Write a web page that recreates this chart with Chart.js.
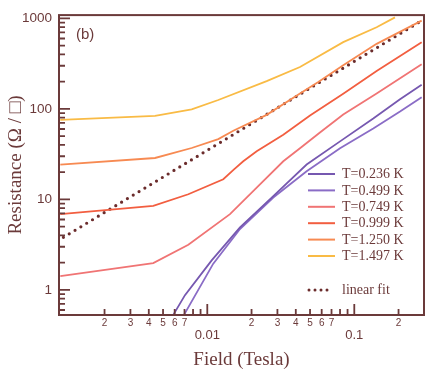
<!DOCTYPE html>
<html><head><meta charset="utf-8">
<script src="https://cdn.jsdelivr.net/npm/chart.js@4.4.1/dist/chart.umd.min.js"></script>
<style>html,body{margin:0;padding:0;background:#fff;}canvas{display:block;}</style>
</head><body>
<canvas id="c" width="431" height="376"></canvas>
<script>
// ---- data ----
const seriesLabels = ['T=0.236 K', 'T=0.499 K', 'T=0.749 K', 'T=0.999 K', 'T=1.250 K', 'T=1.497 K'];
const fitLabel = 'linear fit';
const panelLabel = '(b)';
const xTitle = 'Field (Tesla)';
const yTitle = 'Resistance (\u03A9 / \u25A1)';

const fieldT0236 = [0.00587, 0.00705, 0.01071, 0.01669, 0.02812, 0.0474, 0.0800, 0.1346, 0.2047, 0.2873];
const resT0236   = [0.53, 0.875, 2.12, 4.91, 10.9, 24.3, 43.8, 78.3, 128, 185];

const fieldT0499 = [0.00694, 0.01098, 0.01669, 0.02812, 0.0474, 0.0800, 0.1346, 0.2047, 0.2873];
const resT0499   = [0.53, 1.95, 4.71, 10.5, 20.5, 36.7, 60.8, 93.4, 135];

const fieldT0749 = [0.001, 0.00429, 0.00743, 0.01427, 0.02168, 0.03289, 0.04272, 0.0584, 0.0841, 0.1419, 0.2873];
const resT0749   = [1.42, 1.98, 3.15, 6.88, 13.5, 26.4, 36.7, 55.0, 86.6, 148, 311];

const fieldT0999 = [0.001, 0.00429, 0.00743, 0.01285, 0.01520, 0.01757, 0.02168, 0.03289, 0.04998, 0.0841, 0.1419, 0.2873];
const resT0999   = [6.88, 8.49, 11.4, 16.7, 21.5, 26.4, 34.0, 51.9, 84.5, 147, 263, 547];

const fieldT1250 = [0.001, 0.00441, 0.00783, 0.01188, 0.01503, 0.02535, 0.04272, 0.0569, 0.0841, 0.1419, 0.2873];
const resT1250   = [24.3, 28.7, 37.0, 46.4, 57.4, 86.0, 148, 199, 304, 524, 946];

const fieldT1497 = [0.001, 0.00441, 0.00783, 0.01188, 0.02535, 0.04272, 0.0841, 0.1419, 0.1892];
const resT1497   = [75.7, 83.8, 99.1, 125.5, 203, 291, 547, 799, 1028];

const fieldFit = [0.00105, 0.2873];
const resFit   = [3.81, 946];

const xTickValues = [0.002,0.003,0.004,0.005,0.006,0.007,0.008,0.009,0.01,0.02,0.03,0.04,0.05,0.06,0.07,0.08,0.09,0.1,0.2];
const xTickLabels = ['2','3','4','5','6','7','','','0.01','2','3','4','5','6','7','','','0.1','2'];
const xMajorTicks = [0.01, 0.1];

const yTickValues = [0.6,0.7,0.8,0.9,1,2,3,4,5,6,7,8,9,10,20,30,40,50,60,70,80,90,100,200,300,400,500,600,700,800,900,1000];
const yMajorTicks = [1, 10, 100, 1000];
const yTickLabels = yTickValues.map(v => yMajorTicks.includes(v) ? String(v) : '');

const xRange = [0.00098, 0.298];
const yRange = [0.528, 1089];

// ---- styling ----
const AXIS = '#6b3a3a';
const SANS = '"Liberation Sans", Arial, Helvetica, sans-serif';
const SERIF = '"Liberation Serif", "Times New Roman", serif';
const seriesColors = ['#7658b0', '#8a6cc6', '#f07474', '#f25e40', '#f78a52', '#f9bb45'];

const seriesFields = [fieldT0236, fieldT0499, fieldT0749, fieldT0999, fieldT1250, fieldT1497];
const seriesRes = [resT0236, resT0499, resT0749, resT0999, resT1250, resT1497];

const toXY = (xs, ys) => xs.map((v, i) => ({x: v, y: ys[i]}));

const datasets = seriesLabels.map((lab, i) => ({
  label: lab,
  data: toXY(seriesFields[i], seriesRes[i]),
  borderColor: seriesColors[i],
  borderWidth: 1.8,
  pointRadius: 0,
  tension: 0,
  fill: false
}));
datasets.push({
  label: fitLabel,
  data: toXY(fieldFit, resFit),
  borderColor: '#6b2c2c',
  borderWidth: 3.2,
  borderDash: [0, 6.8],
  borderCapStyle: 'round',
  pointRadius: 0,
  fill: false
});

const framePlugin = {
  id: 'frame',
  afterDatasetsDraw(chart) {
    const {ctx, chartArea: a, scales: {x, y}} = chart;
    ctx.save();
    ctx.strokeStyle = AXIS;
    ctx.lineWidth = 2;
    ctx.strokeRect(a.left, a.top, a.right - a.left, a.bottom - a.top);
    ctx.lineWidth = 1.8;
    ctx.beginPath();
    x.ticks.forEach(t => {
      const px = x.getPixelForValue(t.value);
      const len = t.major ? 11 : 6;
      ctx.moveTo(px, a.bottom); ctx.lineTo(px, a.bottom - len);
    });
    y.ticks.forEach(t => {
      const py = y.getPixelForValue(t.value);
      const len = t.major ? 11 : 6;
      ctx.moveTo(a.left, py); ctx.lineTo(a.left + len, py);
    });
    ctx.stroke();

    // panel label
    ctx.fillStyle = AXIS;
    ctx.font = '15px ' + SANS;
    ctx.textBaseline = 'middle';
    ctx.textAlign = 'left';
    ctx.fillText(panelLabel, 76, 35);

    // legend
    ctx.font = '14px ' + SERIF;
    const lx0 = 308, lx1 = 335, tx = 342;
    chart.data.datasets.forEach((ds, i) => {
      const isFit = i === chart.data.datasets.length - 1;
      const yy = isFit ? 290 : 174 + i * 16.4;
      ctx.save();
      ctx.strokeStyle = ds.borderColor;
      if (isFit) {
        ctx.lineWidth = 3;
        ctx.lineCap = 'round';
        ctx.setLineDash([0, 6]);
        ctx.beginPath(); ctx.moveTo(lx0 + 1, yy); ctx.lineTo(lx1 - 2, yy); ctx.stroke();
      } else {
        ctx.lineWidth = 2;
        ctx.beginPath(); ctx.moveTo(lx0, yy); ctx.lineTo(lx1, yy); ctx.stroke();
      }
      ctx.restore();
      ctx.fillStyle = AXIS;
      ctx.fillText(ds.label, tx, yy + 0.5);
    });
    ctx.restore();
  }
};

new Chart(document.getElementById('c'), {
  type: 'line',
  data: {datasets},
  plugins: [framePlugin],
  options: {
    responsive: false,
    animation: false,
    devicePixelRatio: 1,
    layout: {padding: {top: 12.7, right: 7, left: 0, bottom: 0}},
    plugins: {legend: {display: false}, tooltip: {enabled: false}},
    scales: {
      x: {
        type: 'logarithmic',
        position: 'bottom',
        min: xRange[0], max: xRange[1],
        bounds: 'data',
        grid: {display: false, drawTicks: false},
        border: {display: false},
        afterBuildTicks: s => { s.ticks = xTickValues.map(v => ({value: v, major: xMajorTicks.includes(v)})); },
        afterFit: s => { s.height = 61; },
        ticks: {
          autoSkip: false, maxRotation: 0, minRotation: 0, padding: 2,
          color: AXIS,
          callback: (v, i) => xMajorTicks.includes(xTickValues[i]) ? ['', xTickLabels[i]] : xTickLabels[i],
          font: ctx => (ctx.tick && ctx.tick.major)
            ? {family: SANS, size: 13, lineHeight: 12 / 13}
            : {family: SANS, size: 10, lineHeight: 1.2}
        },
        title: {display: true, text: xTitle, color: AXIS, font: {family: SERIF, size: 19}, padding: {top: 0, bottom: 5}}
      },
      y: {
        type: 'logarithmic',
        position: 'left',
        min: yRange[0], max: yRange[1],
        bounds: 'data',
        grid: {display: false, drawTicks: false},
        border: {display: false},
        afterBuildTicks: s => { s.ticks = yTickValues.map(v => ({value: v, major: yMajorTicks.includes(v)})); },
        afterFit: s => { s.width = 59; },
        ticks: {
          autoSkip: false, padding: 7, color: AXIS,
          callback: (v, i) => yTickLabels[i],
          font: {family: SANS, size: 13.5}
        },
        title: {display: true, text: yTitle, color: AXIS, font: {family: SERIF, size: 19}, padding: {top: 5, bottom: 0}}
      }
    }
  }
});
</script>
</body></html>
